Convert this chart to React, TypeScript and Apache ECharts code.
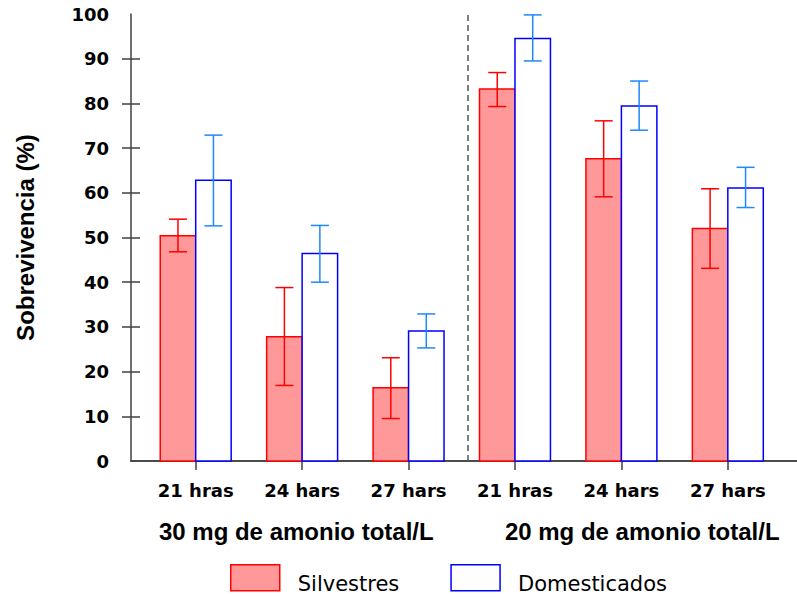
import React, { useEffect, useRef } from "react";
import * as echarts from "echarts";

const categories = ["21 hras", "24 hars", "27 hars", "21 hras", "24 hars", "27 hars"];
const groupLabels = ["30 mg de amonio total/L", "20 mg de amonio total/L"];
const groupPositions = [1.945, 5.196];
const silvestres = [50.4, 27.8, 16.4, 83.2, 67.6, 52.0];
const silvestresLow = [46.8, 16.9, 9.5, 79.3, 59.1, 43.1];
const silvestresHigh = [54.1, 38.8, 23.1, 86.9, 76.1, 60.9];
const domesticados = [62.8, 46.4, 29.1, 94.5, 79.4, 61.1];
const domesticadosLow = [52.6, 40.0, 25.3, 89.5, 74.0, 56.7];
const domesticadosHigh = [72.9, 52.7, 32.9, 99.8, 85.0, 65.7];
const yTicks = [10, 20, 30, 40, 50, 60, 70, 80, 90];
const separatorAt = 3.561;

const X_MIN = 0.392;
const X_MAX = 6.65;
const BAR_W = 1 / 3;

const RED_FILL = "#FF9999";
const RED = "#FF0000";
const BLUE = "#0000FF";
const BLUE_ERR = "#1E88FF";
const AXIS = "#404040";

function barSeries(name: string, values: number[], offset: number, fill: string, stroke: string) {
  return {
    type: "custom",
    name,
    xAxisIndex: 0,
    yAxisIndex: 0,
    data: values.map((v, i) => [i + 1, v]),
    renderItem: (params: any, api: any) => {
      const x = api.value(0);
      const y = api.value(1);
      const p0 = api.coord([x + offset, 0]);
      const p1 = api.coord([x + offset + BAR_W, y]);
      return {
        type: "rect",
        shape: { x: p0[0], y: p1[1], width: p1[0] - p0[0], height: p0[1] - p1[1] },
        style: { fill, stroke, lineWidth: 1.5 },
      };
    },
    z: 2,
  };
}

function errSeries(low: number[], high: number[], offset: number, color: string) {
  return {
    type: "custom",
    xAxisIndex: 0,
    yAxisIndex: 0,
    data: low.map((l, i) => [i + 1, l, high[i]]),
    encode: { x: 0, y: [1, 2] },
    renderItem: (params: any, api: any) => {
      const x = api.value(0) + offset;
      const lo = api.coord([x, api.value(1)]);
      const hi = api.coord([x, api.value(2)]);
      const cw = 9;
      const style = { stroke: color, lineWidth: 1.5 };
      return {
        type: "group",
        children: [
          { type: "line", shape: { x1: lo[0], y1: lo[1], x2: hi[0], y2: hi[1] }, style },
          { type: "line", shape: { x1: hi[0] - cw, y1: hi[1], x2: hi[0] + cw, y2: hi[1] }, style },
          { type: "line", shape: { x1: lo[0] - cw, y1: lo[1], x2: lo[0] + cw, y2: lo[1] }, style },
        ],
      };
    },
    z: 3,
  };
}

export default function App() {
  const ref = useRef<HTMLDivElement>(null);
  useEffect(() => {
    document.body.style.margin = "0";
    if (!ref.current) return;
    const chart = echarts.init(ref.current, null, { renderer: "svg" });
    const tickFont = { fontFamily: "DejaVu Sans", fontWeight: "bold", fontSize: 18, color: "#000" };
    chart.setOption({
      animation: false,
      backgroundColor: "#fff",
      grid: { left: 131, right: 0, top: 14, bottom: 136, containLabel: false },
      legend: {
        left: 230,
        top: 564,
        padding: 0,
        icon: "rect",
        itemWidth: 49,
        itemHeight: 26,
        itemGap: 51,
        formatter: (name: string) => `{t|${name}}`,
        textStyle: {
          fontFamily: "DejaVu Sans",
          fontSize: 21,
          color: "#000",
          rich: {
            t: { fontFamily: "DejaVu Sans", fontSize: 21, color: "#000", padding: [12, 0, 0, 13] },
          },
        },
        data: [
          { name: "Silvestres", itemStyle: { color: RED_FILL, borderColor: RED, borderWidth: 1.5 } },
          { name: "Domesticados", itemStyle: { color: "#fff", borderColor: BLUE, borderWidth: 1.5 } },
        ],
      },
      xAxis: [
        {
          type: "value",
          position: "bottom",
          min: X_MIN,
          max: X_MAX,
          splitLine: { show: false },
          axisLine: { show: true, lineStyle: { color: AXIS, width: 1.5 } },
          axisTick: { show: true, customValues: [1, 2, 3, 4, 5, 6], length: 9, lineStyle: { color: AXIS, width: 1.5 } },
          axisLabel: {
            show: true,
            customValues: [1, 2, 3, 4, 5, 6],
            formatter: (v: number) => categories[Math.round(v) - 1] ?? "",
            margin: 20,
            ...tickFont,
          },
        },
        {
          type: "value",
          position: "top",
          min: X_MIN,
          max: X_MAX,
          splitLine: { show: false },
          axisLine: { show: true, lineStyle: { color: AXIS, width: 1.5 } },
          axisTick: { show: false },
          axisLabel: { show: false },
        },
        {
          type: "value",
          position: "bottom",
          min: X_MIN,
          max: X_MAX,
          splitLine: { show: false },
          axisLine: { show: false },
          axisTick: { show: false },
          axisLabel: {
            show: true,
            customValues: groupPositions,
            formatter: (v: number) => {
              const i = groupPositions.findIndex((p) => Math.abs(p - v) < 1e-6);
              return i >= 0 ? groupLabels[i] : "";
            },
            margin: 58,
            fontFamily: "Liberation Sans",
            fontWeight: "bold",
            fontSize: 24,
            color: "#000",
          },
        },
      ],
      yAxis: [
        {
          type: "value",
          position: "left",
          min: 0,
          max: 100,
          interval: 10,
          name: "Sobrevivencia (%)",
          nameLocation: "middle",
          nameRotate: 90,
          nameGap: 94,
          nameTextStyle: { fontFamily: "Liberation Sans", fontWeight: "bold", fontSize: 24, color: "#000" },
          splitLine: { show: false },
          axisLine: { show: true, lineStyle: { color: AXIS, width: 1.5 } },
          axisTick: { show: true, customValues: yTicks, length: 9, lineStyle: { color: AXIS, width: 1.5 } },
          axisLabel: { show: true, margin: 22, ...tickFont },
        },
        {
          type: "value",
          position: "left",
          min: 0,
          max: 100,
          interval: 10,
          splitLine: { show: false },
          axisLine: { show: false },
          axisTick: { show: true, inside: true, customValues: yTicks, length: 9, lineStyle: { color: AXIS, width: 1.5 } },
          axisLabel: { show: false },
        },
      ],
      series: [
        barSeries("Silvestres", silvestres, -BAR_W, RED_FILL, RED),
        barSeries("Domesticados", domesticados, 0, "#fff", BLUE),
        errSeries(silvestresLow, silvestresHigh, -BAR_W / 2, RED),
        errSeries(domesticadosLow, domesticadosHigh, BAR_W / 2, BLUE_ERR),
        {
          type: "line",
          xAxisIndex: 0,
          yAxisIndex: 0,
          data: [],
          markLine: {
            silent: true,
            symbol: ["none", "none"],
            label: { show: false },
            lineStyle: { color: "#555", width: 1.5, type: [6, 4] },
            data: [{ xAxis: separatorAt }],
          },
        },
      ],
    });
    return () => chart.dispose();
  }, []);
  return <div ref={ref} style={{ width: 797, height: 597 }} />;
}
